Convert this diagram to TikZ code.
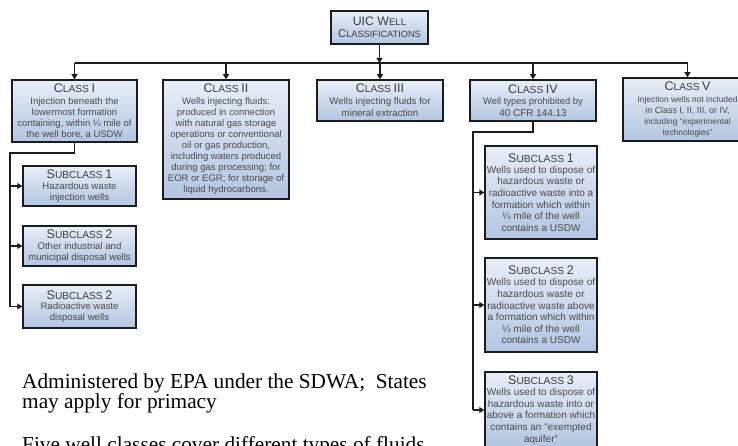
\documentclass[tikz,border=0pt]{standalone}
\usepackage{fontspec}
\setmainfont{Liberation Serif}
\newfontfamily\boxfont{Liberation Sans}
\usetikzlibrary{arrows.meta,shadows}
\definecolor{hdcol}{HTML}{3C3C3C}
\definecolor{bdcol}{HTML}{4A4A4A}
\definecolor{boxtop}{HTML}{E7EEF8}
\definecolor{boxbot}{HTML}{B2C5E1}
\definecolor{edgecol}{HTML}{1C1C1C}
\newcommand\Hc[1]{{\fontsize{12.5}{12}\selectfont\color{hdcol}#1}}
\newcommand\Hs[1]{{\fontsize{10.2}{12}\selectfont\color{hdcol}#1}}
\newcommand\bfs[2]{\fontsize{#1}{#2}\selectfont}
\begin{document}
\begin{tikzpicture}[x=1pt,y=-1pt,
  box/.style={draw=edgecol, line width=1.5pt, top color=boxtop, bottom color=boxbot,
    inner sep=0pt, align=center, text=bdcol,
    font=\boxfont\bfs{9.5}{11},
    drop shadow={opacity=0.18, shadow xshift=1.2pt, shadow yshift=-1.2pt}},
  conn/.style={draw=edgecol, line width=1.8pt},
  arr/.style={conn, -{Triangle[length=5pt,width=6pt]}},
  note/.style={anchor=base west, inner sep=0pt, font=\fontsize{21.3}{21}\selectfont, text=black}]
\useasboundingbox (0,0) rectangle (738,446);
\clip (0,0) rectangle (738,446);
\fill[white] (0,0) rectangle (738,446);

% top box
\node[box, minimum width=97pt, minimum height=33pt, font=\boxfont\bfs{10}{12.5}] (top) at (379.5,27.5)
  {{\fontsize{12.3}{12.5}\selectfont\color{hdcol}UIC W}{\fontsize{9.6}{12.5}\selectfont\color{hdcol}ELL}\\
   {\fontsize{11.2}{12.5}\selectfont\color{hdcol}C}{\fontsize{9.2}{12.5}\selectfont\color{hdcol}LASSIFICATIONS}};

% classes
\node[box, minimum width=125pt, minimum height=62pt] (c1) at (74.5,111)
  {\Hc{C}\Hs{LASS} \Hc{I}\\[1pt]
   Injection beneath the\\ lowermost formation\\ containing, within ¼ mile of\\ the well bore, a USDW};
\node[box, minimum width=126pt, minimum height=119pt] (c2) at (226,139.5)
  {\Hc{C}\Hs{LASS} \Hc{II}\\[1pt]
   Wells injecting fluids:\\ produced in connection\\ with natural gas storage\\ operations or conventional\\
   oil or gas production,\\ including waters produced\\ during gas processing; for\\
   EOR or EGR; for storage of\\ liquid hydrocarbons.};
\node[box, minimum width=126pt, minimum height=41pt, font=\boxfont\bfs{9.7}{12}] (c3) at (380,100.5)
  {\Hc{C}\Hs{LASS} \Hc{III}\\[0pt]
   Wells injecting fluids for\\ mineral extraction};
\node[box, minimum width=126pt, minimum height=41pt, font=\boxfont\bfs{9.4}{11.5}] (c4) at (533,100.5)
  {\Hc{C}\Hs{LASS} \Hc{IV}\\[0pt]
   Well types prohibited by\\ {\bfs{9.9}{11.5}40 CFR 144.13}};
\node[box, minimum width=129pt, minimum height=63pt, font=\boxfont\bfs{8.4}{10.8}] (c5) at (687.5,109.5)
  {\Hc{C}\Hs{LASS} \Hc{V}\\[1pt]
   Injection wells not included\\ {\bfs{8.9}{10.8}in Class I, II, III, or IV,}\\
   including “experimental\\ technologies”};

% left subclasses
\node[box, minimum width=113pt, minimum height=40pt, font=\boxfont\bfs{9.6}{10.8}] (s1) at (79.5,186)
  {\Hc{S}\Hs{UBCLASS} \Hc{1}\\[0pt] Hazardous waste\\ injection wells};
\node[box, minimum width=113pt, minimum height=40pt, font=\boxfont\bfs{9.6}{10.8}] (s2) at (79.5,246)
  {\Hc{S}\Hs{UBCLASS} \Hc{2}\\[0pt] Other industrial and\\ municipal disposal wells};
\node[box, minimum width=113pt, minimum height=43pt, font=\boxfont\bfs{9.6}{10.8}] (s3) at (79.5,306.5)
  {\Hc{S}\Hs{UBCLASS} \Hc{2}\\[0pt] Radioactive waste\\ disposal wells};

% right subclasses
\node[box, minimum width=112pt, minimum height=93pt, font=\boxfont\bfs{10}{11.6}] (r1) at (541,192.5)
  {\Hc{S}\Hs{UBCLASS} \Hc{1}\\[-0.5pt]
   Wells used to dispose of\\ hazardous waste or\\ radioactive waste into a\\
   formation which within\\ ¼ mile of the well\\ contains a USDW};
\node[box, minimum width=112pt, minimum height=94pt, font=\boxfont\bfs{10}{11.6}] (r2) at (541,305)
  {\Hc{S}\Hs{UBCLASS} \Hc{2}\\[-0.5pt]
   Wells used to dispose of\\ hazardous waste or\\ radioactive waste above\\
   a formation which within\\ ¼ mile of the well\\ contains a USDW};
\node[box, minimum width=112pt, minimum height=76pt, font=\boxfont\bfs{10}{11.6}] (r3) at (541,410)
  {\Hc{S}\Hs{UBCLASS} \Hc{3}\\[-0.5pt]
   Wells used to dispose of\\ hazardous waste into or\\ above a formation which\\
   contains an “exempted\\ aquifer”};

% connectors: top to bus
\coordinate (bus) at (379.5,63);
\draw[arr] (top.south) -- (bus);
\draw[conn] (c1.north |- bus) -- (c5.north |- bus);
\foreach \c in {c1,c2,c3,c4,c5} {\draw[arr] (\c.north |- bus) -- (\c.north);}

% class I to subclasses
\coordinate (lj) at (10,153);
\draw[conn] (c1.south) |- (lj) -- (lj |- s3.west);
\foreach \s in {s1,s2,s3} {\draw[arr] (lj |- \s.west) -- (\s.west);}

% class IV to subclasses
\coordinate (rj) at (473,132);
\draw[conn] (c4.south) |- (rj) -- (rj |- r3.west);
\foreach \s in {r1,r2,r3} {\draw[arr] (rj |- \s.west) -- (\s.west);}

% notes
\node[note] (n1) at (22,388) {Administered by EPA under the SDWA;\ \ States};
\node[note] (n2) at (22,408) {may apply for primacy};
\node[note] (n3) at (22,451) {Five well classes cover different types of fluids};
\end{tikzpicture}
\end{document}
